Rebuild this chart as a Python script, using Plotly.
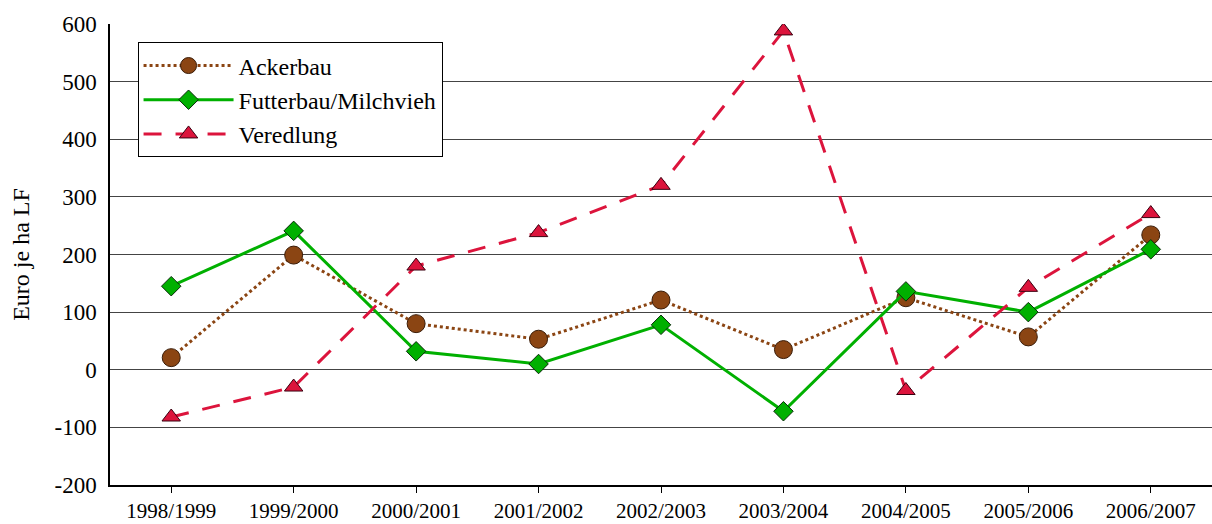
import plotly.graph_objects as go

# Wirtschaftsjahre
jahre = ["1998/1999", "1999/2000", "2000/2001", "2001/2002", "2002/2003",
         "2003/2004", "2004/2005", "2005/2006", "2006/2007"]

# Euro je ha LF nach Betriebsform
ackerbau = [21, 199, 80, 53, 121, 35, 125, 57, 234]
futterbau_milchvieh = [145, 241, 32, 10, 78, -72, 136, 100, 209]
veredlung = [-82, -30, 180, 238, 320, 588, -36, 143, 271]

y_ticks = [-200, -100, 0, 100, 200, 300, 400, 500, 600]
y_ticktext = ["-200", "-100", "0", "100", "200", "300", "400", "500", "600"]

FONT = "Liberation Serif"

fig = go.Figure()

fig.add_trace(go.Scatter(
    x=jahre, y=ackerbau, name="Ackerbau", mode="lines+markers",
    line=dict(color="#8B4513", width=3, dash="dot"),
    marker=dict(symbol="circle", size=18, color="#8B4513",
                line=dict(color="#3a1c08", width=1)),
))
fig.add_trace(go.Scatter(
    x=jahre, y=futterbau_milchvieh, name="Futterbau/Milchvieh", mode="lines+markers",
    line=dict(color="#00B000", width=3),
    marker=dict(symbol="diamond", size=15, color="#00B000",
                line=dict(color="#0a2a0a", width=1)),
))
fig.add_trace(go.Scatter(
    x=jahre, y=veredlung, name="Veredlung", mode="lines+markers",
    line=dict(color="#DC143C", width=3, dash="18px,14px"),
    marker=dict(symbol="triangle-up", size=16, color="#DC143C",
                line=dict(color="#3a0010", width=1)),
))

fig.update_layout(
    width=1212, height=524,
    margin=dict(l=110, r=0, t=24, b=39),
    paper_bgcolor="white", plot_bgcolor="white",
    font=dict(family=FONT, color="black", size=20),
    showlegend=True,
    legend=dict(
        x=0.025, y=0.96, xanchor="left", yanchor="top",
        bgcolor="white", bordercolor="black", borderwidth=1,
        font=dict(family=FONT, size=24, color="black"),
        tracegroupgap=0, itemwidth=90,
    ),
)

fig.update_xaxes(
    type="category", range=[-0.5, 8.5], automargin=False,
    showline=True, linecolor="black", linewidth=1.5,
    ticks="outside", ticklen=6, tickcolor="black", tickwidth=1,
    tickfont=dict(family=FONT, size=21), ticklabelstandoff=0,
    showgrid=False,
)
fig.update_yaxes(
    range=[-200, 600], tickvals=y_ticks, ticktext=y_ticktext, automargin=False,
    showline=True, linecolor="black", linewidth=1.5,
    showgrid=True, gridcolor="#444444", gridwidth=1,
    zeroline=False, ticks="", ticklabelstandoff=7,
    tickfont=dict(family=FONT, size=23),
    title=dict(text="Euro je ha LF", font=dict(family=FONT, size=24), standoff=18),
)

fig.write_html("out.html")
